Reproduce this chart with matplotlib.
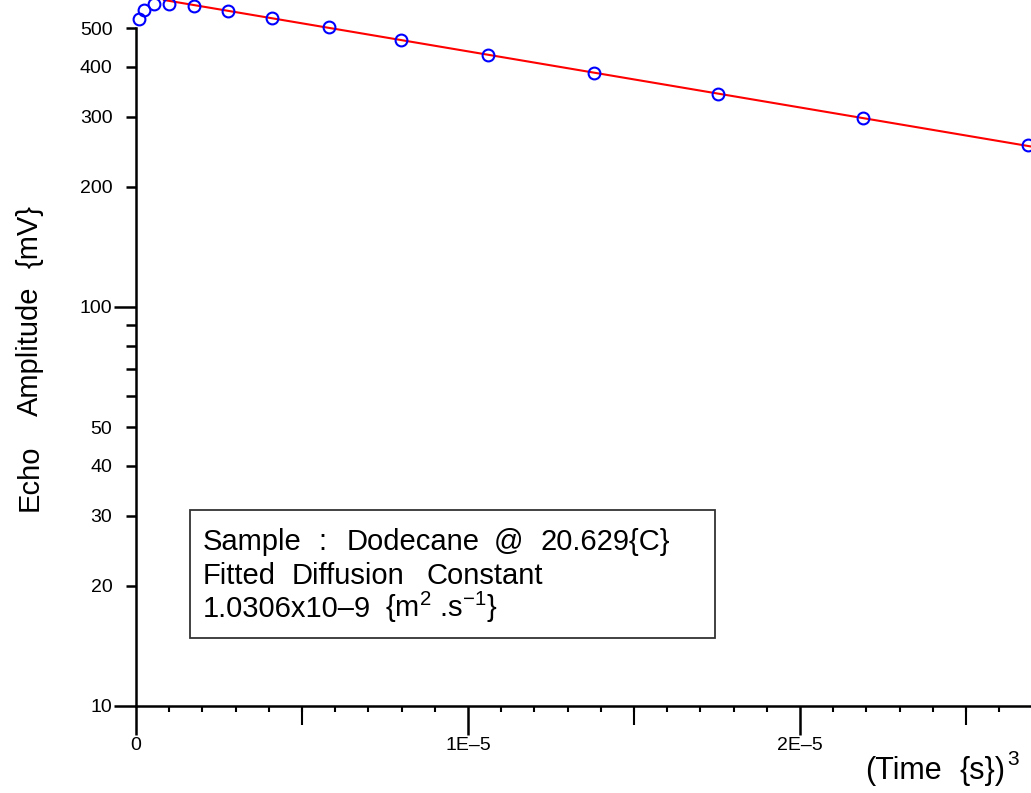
import matplotlib
matplotlib.use('Agg')
import matplotlib.pyplot as plt
from matplotlib.patches import Rectangle
from matplotlib.ticker import FixedLocator, MultipleLocator, NullFormatter

plt.rcParams['font.family'] = ['Liberation Sans', 'DejaVu Sans']
plt.rcParams['mathtext.fontset'] = 'custom'
plt.rcParams['mathtext.rm'] = 'Liberation Sans'
plt.rcParams['mathtext.it'] = 'Liberation Sans:italic'

# echo data: (time)^3 in s^3 vs amplitude in mV
t_cubed = [0.09e-6, 0.232e-6, 0.542e-6, 1.003e-6, 1.747e-6, 2.762e-6, 4.096e-6,
           5.822e-6, 7.991e-6, 1.0602e-5, 1.3795e-5, 1.753e-5, 2.1907e-5, 2.6877e-5]
amplitude = [527, 555, 575, 575, 569, 553, 531, 502, 467, 428, 386, 342, 298, 254]

# fitted decay line (end points)
fit_x = [0.843e-6, 2.696e-5]
fit_y = [588, 252.5]

x_major = [0, 1e-5, 2e-5]
x_major_labels = ['0', '1E\u20135', '2E\u20135']
x_mid = [0.5e-5, 1.5e-5, 2.5e-5]
y_major = [10, 100]
y_minor = [20, 30, 40, 50, 60, 70, 80, 90, 200, 300, 400, 500]
y_minor_labels = ['20', '30', '40', '50', '', '', '', '', '200', '300', '400', '500']

W, H = 1031, 793
fig = plt.figure(figsize=(W / 100, H / 100), dpi=100)
ax = fig.add_axes([136 / W, 87 / H, (W - 136) / W, 706 / H])

def fx(px):
    return px / W

def fy(py):
    return 1 - py / H

ax.plot(fit_x, fit_y, color='red', lw=1.5, zorder=2)
ax.plot(t_cubed, amplitude, 'o', mfc='none', mec='blue', ms=8.5, mew=1.5, zorder=3,
        clip_on=False)

ax.set_yscale('log')
ax.set_xlim(0, 2.696e-5)
ax.set_ylim(10, 588)

for s in ['top', 'right']:
    ax.spines[s].set_visible(False)
ax.spines['left'].set_linewidth(1.8)
ax.spines['bottom'].set_linewidth(1.8)
ax.spines['left'].set_bounds(10, 500)

# y ticks
ax.set_yticks(y_major, ['10', '100'])
ax.set_yticks(y_minor, y_minor_labels, minor=True)
ax.tick_params(axis='y', which='major', length=16, width=1.8, pad=1, labelsize=14)
ax.tick_params(axis='y', which='minor', length=7, width=1.8, pad=10, labelsize=14)

# x ticks
ax.set_xticks(x_major, x_major_labels)
ax.xaxis.set_minor_locator(MultipleLocator(1e-6))
ax.xaxis.set_minor_formatter(NullFormatter())
ax.tick_params(axis='x', which='major', length=21, width=1.8, pad=1, labelsize=14)
ax.tick_params(axis='x', which='minor', length=4, width=1.5)

sec = ax.secondary_xaxis('bottom')
sec.set_xticks(x_mid, ['', '', ''])
sec.spines['bottom'].set_visible(False)
sec.tick_params(axis='x', which='major', length=14, width=1.5)
sec.xaxis.set_minor_locator(FixedLocator([]))

# y label, word by word (wide word spacing in the original)
for word, yc in [('Echo', 478), ('Amplitude', 351), ('{mV}', 236.5)]:
    fig.text(fx(38), fy(yc), word, rotation=90, rotation_mode='anchor',
             ha='center', va='baseline', fontsize=21)

# x label
fig.text(fx(865), fy(779), '(Time', ha='left', va='baseline', fontsize=22)
fig.text(fx(959), fy(779), '{s})', ha='left', va='baseline', fontsize=22)
fig.text(fx(1007), fy(765), '3', ha='left', va='baseline', fontsize=15)

# annotation box
fig.add_artist(Rectangle((fx(190), fy(638)), (715 - 190) / W, (638 - 510) / H,
                         transform=fig.transFigure, fill=False, ec='#333333', lw=1.3))
box_words = [
    ('Sample', 203, 550), (':', 318, 550), ('Dodecane', 347, 550),
    ('@', 494, 550), ('20.629{C}', 541, 550),
    ('Fitted', 203, 583.5), ('Diffusion', 292, 583.5), ('Constant', 426, 583.5),
    ('1.0306x10\u20139', 203, 617), ('{m$^2$ .s$^{\u22121}$}', 385, 617),
]
for word, x0, b in box_words:
    fig.text(fx(x0), fy(b), word, ha='left', va='baseline', fontsize=21)

fig.savefig('out.png', dpi=100)
